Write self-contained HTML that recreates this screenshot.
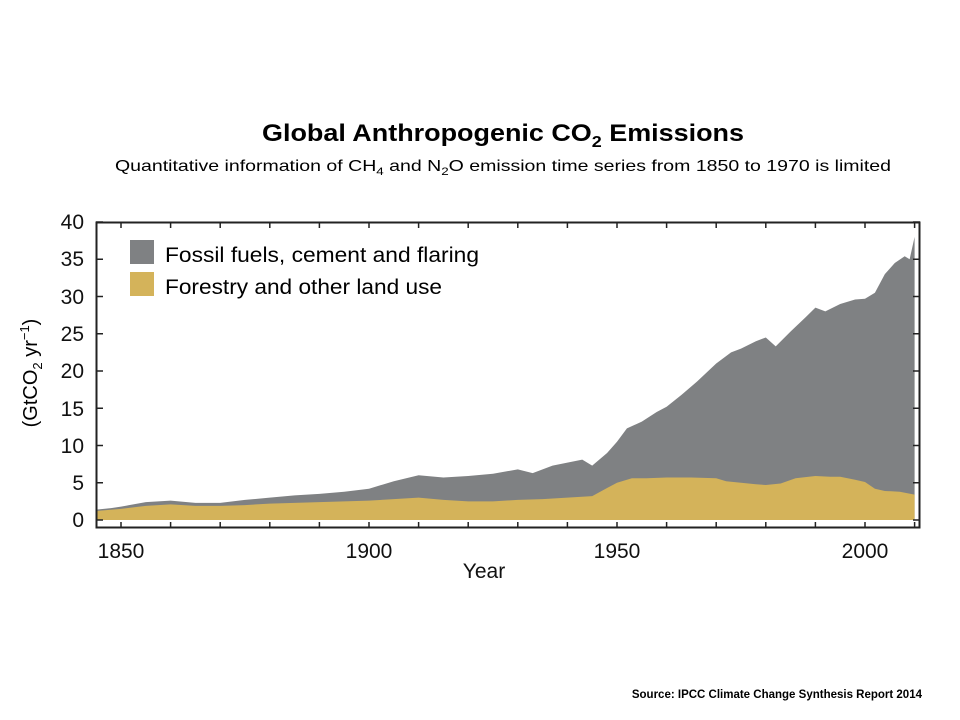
<!DOCTYPE html>
<html><head><meta charset="utf-8"><style>
body{margin:0;background:#fff;}
svg{display:block;font-family:"Liberation Sans",sans-serif;}
</style></head><body>
<svg width="960" height="720" viewBox="0 0 960 720">
<text x="262" y="141" font-size="24" font-weight="bold" textLength="482" lengthAdjust="spacingAndGlyphs">Global Anthropogenic CO<tspan font-size="16" dy="6">2</tspan><tspan dy="-6"> Emissions</tspan></text>
<text x="115" y="171" font-size="16" textLength="776" lengthAdjust="spacingAndGlyphs">Quantitative information of CH<tspan font-size="11" dy="4">4</tspan><tspan dy="-4"> and N</tspan><tspan font-size="11" dy="4">2</tspan><tspan dy="-4">O emission time series from 1850 to 1970 is limited</tspan></text>
<g transform="matrix(4.96 0 0 -7.45 -9055 520)">
<polygon fill="#7f8183" points="1845,0 1845,1.4 1848,1.6 1850,1.8 1855,2.4 1860,2.6 1865,2.3 1870,2.3 1875,2.7 1880,3 1885,3.3 1890,3.5 1895,3.8 1900,4.2 1905,5.2 1910,6 1915,5.7 1920,5.9 1925,6.2 1930,6.8 1933,6.3 1937,7.3 1940,7.7 1943,8.1 1945,7.3 1948,9 1950,10.5 1952,12.3 1955,13.2 1958,14.5 1960,15.2 1963,16.8 1966,18.5 1970,21 1973,22.5 1975,23 1978,24 1980,24.5 1982,23.3 1985,25.3 1988,27.2 1990,28.5 1992,28 1995,29 1998,29.6 2000,29.7 2002,30.5 2004,33 2006,34.5 2008,35.4 2009,35 2010,38 2010,0"/>
<polygon fill="#d4b35a" points="1845,0 1845,1.2 1850,1.5 1855,1.9 1860,2.1 1865,1.9 1870,1.9 1875,2.0 1880,2.2 1890,2.4 1900,2.6 1905,2.8 1910,3.0 1915,2.7 1920,2.5 1925,2.5 1930,2.7 1935,2.8 1940,3.0 1945,3.2 1948,4.3 1950,5.0 1953,5.6 1956,5.6 1960,5.7 1965,5.7 1970,5.6 1972,5.2 1975,5.0 1978,4.8 1980,4.7 1983,4.9 1986,5.6 1990,5.9 1993,5.8 1995,5.8 1998,5.4 2000,5.1 2002,4.2 2004,3.9 2007,3.8 2010,3.4 2010,0"/>
</g>
<rect x="96.5" y="222.5" width="823" height="305" fill="none" stroke="#222" stroke-width="2"/>
<g stroke="#222" stroke-width="1.5">
<path d="M96 222h7M913 222h7M96 259.3h7M913 259.3h7M96 296.5h7M913 296.5h7M96 333.8h7M913 333.8h7M96 371h7M913 371h7M96 408.3h7M913 408.3h7M96 445.5h7M913 445.5h7M96 482.8h7M913 482.8h7M96 520h7M913 520h7"/>
<path d="M121 222v6M170.6 222v6M220.2 222v6M269.8 222v6M319.4 222v6M369 222v6M418.6 222v6M468.2 222v6M517.8 222v6M567.4 222v6M617 222v6M666.6 222v6M716.2 222v6M765.8 222v6M815.4 222v6M865 222v6M914.6 222v6"/>
<path d="M121 528v-6M170.6 528v-6M220.2 528v-6M269.8 528v-6M319.4 528v-6M369 528v-6M418.6 528v-6M468.2 528v-6M517.8 528v-6M567.4 528v-6M617 528v-6M666.6 528v-6M716.2 528v-6M765.8 528v-6M815.4 528v-6M865 528v-6M914.6 528v-6"/>
</g>
<g font-size="21" text-anchor="end" fill="#111">
<text x="84" y="229">40</text><text x="84" y="266">35</text><text x="84" y="304">30</text><text x="84" y="341">25</text><text x="84" y="378">20</text><text x="84" y="416">15</text><text x="84" y="453">10</text><text x="84" y="490">5</text><text x="84" y="527">0</text>
</g>
<g font-size="21" text-anchor="middle" fill="#111">
<text x="121" y="558">1850</text><text x="369" y="558">1900</text><text x="617" y="558">1950</text><text x="865" y="558">2000</text>
<text x="484" y="578">Year</text>
</g>
<text transform="translate(37 373) rotate(-90)" font-size="20" text-anchor="middle">(GtCO<tspan font-size="13" dy="5">2</tspan><tspan dy="-5"> yr</tspan><tspan font-size="13" dy="-8">−1</tspan><tspan dy="8">)</tspan></text>
<rect x="130" y="240" width="24" height="24" fill="#7f8183"/>
<rect x="130" y="272" width="24" height="24" fill="#d4b35a"/>
<text x="165" y="262" font-size="21" textLength="314" lengthAdjust="spacingAndGlyphs">Fossil fuels, cement and flaring</text>
<text x="165" y="294" font-size="21" textLength="277" lengthAdjust="spacingAndGlyphs">Forestry and other land use</text>
<text x="922" y="698" text-anchor="end" font-size="11.5" font-weight="bold">Source: IPCC Climate Change Synthesis Report 2014</text>
</svg>
</body></html>
